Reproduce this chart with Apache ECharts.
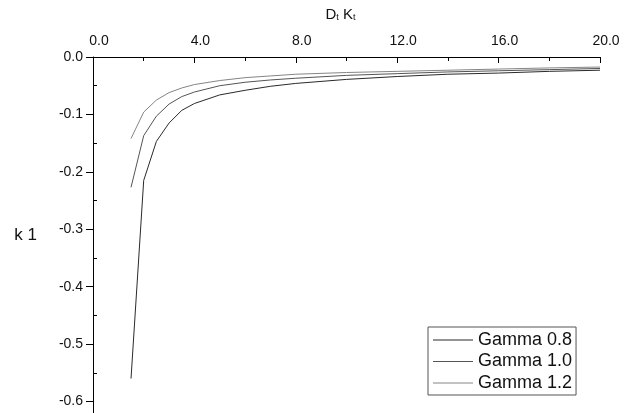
<!DOCTYPE html>
<html>
<head>
<meta charset="utf-8">
<script src="https://cdn.jsdelivr.net/npm/echarts@6/dist/echarts.min.js"></script>
<style>
html,body{margin:0;padding:0;background:#fff;}
#c{width:634px;height:413px;}
</style>
</head>
<body>
<div id="c"></div>
<script>
// ---- data ----
const xValues = [1.5, 2.0, 2.5, 3.0, 3.5, 4.0, 5.0, 6.0, 7.0, 8.0, 10.0, 12.0, 14.0, 16.0, 18.0, 20.0];
const gamma08 = [-0.560, -0.215, -0.147, -0.115, -0.093, -0.081, -0.066, -0.058, -0.051, -0.046, -0.039, -0.034, -0.030, -0.028, -0.025, -0.023];
const gamma10 = [-0.227, -0.137, -0.103, -0.082, -0.069, -0.061, -0.050, -0.044, -0.040, -0.037, -0.032, -0.029, -0.026, -0.024, -0.022, -0.020];
const gamma12 = [-0.142, -0.096, -0.075, -0.062, -0.054, -0.048, -0.041, -0.036, -0.033, -0.030, -0.027, -0.025, -0.023, -0.021, -0.019, -0.0175];
const seriesNames = ['Gamma 0.8', 'Gamma 1.0', 'Gamma 1.2'];
const xMajorTicks = [0, 4, 8, 12, 16, 20];
const xMinorTicks = [2, 6, 10, 14, 18];
const yMajorTicks = [0, -0.1, -0.2, -0.3, -0.4, -0.5, -0.6];
const yMinorTicks = [-0.05, -0.15, -0.25, -0.35, -0.45, -0.55];

const FONT = '"Liberation Sans", Arial, sans-serif';
const pair = (xs, ys) => xs.map((x, i) => [x, ys[i]]);

const chart = echarts.init(document.getElementById('c'), null, {renderer: 'canvas'});
const axisLineStyle = {lineStyle: {color: '#000', width: 1}};
chart.setOption({
  animation: false,
  backgroundColor: '#fff',
  grid: {left: 93, top: 57, width: 507, height: 357, containLabel: false},
  legend: {
    orient: 'vertical',
    left: 428, top: 327,
    padding: [4, 4, 3, 5],
    itemGap: 3.5,
    itemWidth: 40, itemHeight: 1,
    icon: 'rect',
    borderColor: '#555', borderWidth: 1,
    backgroundColor: '#fff',
    textStyle: {fontFamily: FONT, fontSize: 18, color: '#111', lineHeight: 18},
    data: seriesNames
  },
  xAxis: [{
    type: 'value', position: 'top', min: 0, max: 20,
    splitLine: {show: false},
    axisLine: axisLineStyle,
    axisTick: {show: true, inside: true, length: 6, customValues: xMajorTicks, lineStyle: {color: '#000'}},
    axisLabel: {customValues: xMajorTicks, margin: 9, padding: [0, 0, 0, 12],
      formatter: v => v.toFixed(1), fontFamily: FONT, fontSize: 14, color: '#111'},
    name: 'D{s|t} K{s|t}',
    nameLocation: 'middle', nameGap: 35,
    nameTextStyle: {fontFamily: FONT, fontSize: 15, color: '#111', padding: [0, 12, 0, 0],
      rich: {s: {fontFamily: FONT, fontSize: 9, color: '#111', verticalAlign: 'bottom', padding: [5, 0, 0, 0]}}}
  }, {
    type: 'value', position: 'top', min: 0, max: 20,
    splitLine: {show: false},
    axisLine: {show: false},
    axisTick: {show: true, inside: true, length: 4, customValues: xMinorTicks, lineStyle: {color: '#000'}},
    axisLabel: {show: false}
  }],
  yAxis: [{
    type: 'value', min: -0.62, max: 0,
    splitLine: {show: false},
    axisLine: axisLineStyle,
    axisTick: {show: true, length: 7, customValues: yMajorTicks, lineStyle: {color: '#000'}},
    axisLabel: {customValues: yMajorTicks, margin: 10, formatter: v => v.toFixed(1),
      fontFamily: FONT, fontSize: 14, color: '#111'},
    name: 'k 1', nameLocation: 'middle', nameRotate: 0, nameGap: 56,
    nameTextStyle: {fontFamily: FONT, fontSize: 17, color: '#111'}
  }, {
    type: 'value', min: -0.62, max: 0,
    splitLine: {show: false},
    axisLine: {show: false},
    axisTick: {show: true, length: 4, customValues: yMinorTicks, lineStyle: {color: '#000'}},
    axisLabel: {show: false}
  }],
  series: [
    {name: seriesNames[0], type: 'line', data: pair(xValues, gamma08), showSymbol: false,
      lineStyle: {color: '#2a2a2a', width: 1}, itemStyle: {color: '#2a2a2a'}},
    {name: seriesNames[1], type: 'line', data: pair(xValues, gamma10), showSymbol: false,
      lineStyle: {color: '#555', width: 1}, itemStyle: {color: '#555'}},
    {name: seriesNames[2], type: 'line', data: pair(xValues, gamma12), showSymbol: false,
      lineStyle: {color: '#858585', width: 1}, itemStyle: {color: '#858585'}}
  ]
});
</script>
</body>
</html>
